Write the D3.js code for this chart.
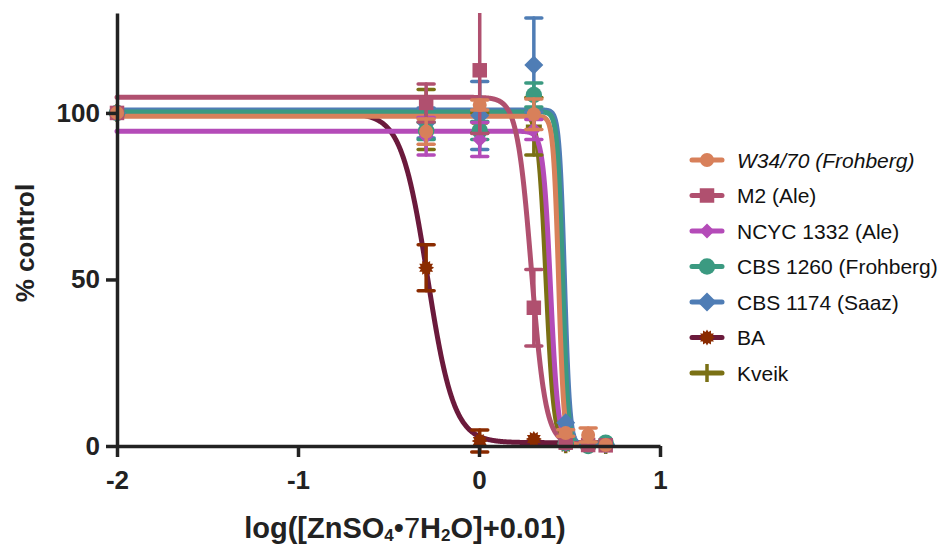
<!DOCTYPE html>
<html><head><meta charset="utf-8">
<script src="https://cdn.jsdelivr.net/npm/d3@7"></script>
<style>body{margin:0;background:#fff} svg{display:block}</style>
</head><body><svg id="c" width="949" height="550"></svg>
<script>
// ---- data ----
const logDose = [-2, -0.292, 0.004, 0.303, 0.479, 0.603, 0.700];
const seriesNames = ["W34/70 (Frohberg)", "M2 (Ale)", "NCYC 1332 (Ale)", "CBS 1260 (Frohberg)", "CBS 1174 (Saaz)", "BA", "Kveik"];
const w3470Mean   = [100, 94.4, 102.4, 99.6, 3.9, 3.3, 0.3];
const w3470Err    = [0, 3.8, 1.5, 4.6, 1, 2.1, 0.5];
const m2Mean      = [100, 103, 112.8, 41.5, 1, 0.3, 0.2];
const m2Err       = [0, 5.7, 19, 11.5, 0.5, 0, 0];
const ncycMean    = [100, 93, 92, 95, 0.6, 0.3, 0.3];
const ncycErr     = [0, 5.6, 5.1, 3, 0, 0, 0];
const cbs1260Mean = [100, 94.6, 94.7, 105.4, 0.8, 0, 1];
const cbs1260Err  = [0, 2.6, 2.7, 3.6, 0, 0.3, 0.3];
const cbs1174Mean = [100, 97, 99.2, 114.4, 7, 0.5, 0.5];
const cbs1174Err  = [0, 4.5, 10.2, 14.1, 0, 0, 0];
const baMean      = [100, 53.5, 1.5, 2.1, 0.3, 0.2, 0.2];
const baErr       = [0, 6.9, 3.3, 0.5, 0, 0, 0];
const kveikMean   = [100, 98, 97, 96, 0.5, 0.3, 0.3];
const kveikErr    = [0, 9, 3, 8.6, 0, 0, 0];
// fitted four-parameter logistic curves
const fitTop     = [99.0, 104.7, 94.5, 100.3, 100.9, 100, 100.1];
const fitBottom  = [0.3, 0.5, 0.5, 0.3, 0.3, 1.0, 0.5];
const fitLogIC50 = [0.44, 0.29, 0.395, 0.462, 0.472, -0.284, 0.37];
const fitHill    = [30, 11, 21, 30, 30, 6, 20];
const xTicks = [-2, -1, 0, 1];
const yTicks = [0, 50, 100];

const means = [w3470Mean, m2Mean, ncycMean, cbs1260Mean, cbs1174Mean, baMean, kveikMean];
const errs  = [w3470Err, m2Err, ncycErr, cbs1260Err, cbs1174Err, baErr, kveikErr];

// ---- styles ----
const lineColors   = ["#d8805a", "#b0506f", "#b44bb8", "#3b9a81", "#4f7db5", "#6b1a3c", "#7a7014"];
const markerColors = ["#d8805a", "#b0506f", "#b44bb8", "#3b9a81", "#4f7db5", "#8a2b00", "#7a7014"];
const shapes = ["circle", "square", "diamondS", "circleL", "diamond", "gear", "plus"];
const FONT = "'Liberation Sans', Arial, Helvetica, sans-serif";

const svg = d3.select("#c");
const x = d3.scaleLinear().domain([-2, 1]).range([117, 660]);
const y = d3.scaleLinear().domain([0, 130]).range([446, 13]);

svg.append("defs").append("clipPath").attr("id", "clip")
  .append("rect").attr("x", 0).attr("y", y(130)).attr("width", 949).attr("height", 550);

function markerPath(shape) {
  if (shape === "circle") return d3.symbol(d3.symbolCircle, Math.PI * 7 * 7)();
  if (shape === "circleL") return d3.symbol(d3.symbolCircle, Math.PI * 8.2 * 8.2)();
  if (shape === "square") return d3.symbol(d3.symbolSquare, 14.5 * 14.5)();
  if (shape === "diamond") { const r = 9.5; return `M0,${-r}L${r},0L0,${r}L${-r},0Z`; }
  if (shape === "diamondS") { const r = 7.5; return `M0,${-r}L${r},0L0,${r}L${-r},0Z`; }
  if (shape === "gear") {
    const pts = d3.range(24).map(i => [i * Math.PI / 12, i % 2 ? 5.6 : 8]);
    return d3.lineRadial().curve(d3.curveLinearClosed)(pts);
  }
  return null;
}
function drawMarker(g, shape, color) {
  if (shape === "plus") {
    g.append("path").attr("d", "M-8,0H8M0,-9V9").attr("stroke", color)
      .attr("stroke-width", 3.5).attr("fill", "none");
  } else {
    g.append("path").attr("d", markerPath(shape)).attr("fill", color);
  }
}

const plot = svg.append("g").attr("clip-path", "url(#clip)");
const order = d3.range(seriesNames.length).reverse();

// curves
const xs = d3.range(-2, 0.7001, 0.002);
const line = d3.line().x(d => x(d[0])).y(d => y(d[1]));
order.forEach(i => {
  const pts = xs.map(v => [v, fitBottom[i] + (fitTop[i] - fitBottom[i]) / (1 + Math.pow(10, fitHill[i] * (v - fitLogIC50[i])))]);
  plot.append("path").attr("d", line(pts)).attr("fill", "none")
    .attr("stroke", lineColors[i]).attr("stroke-width", 5)
    .attr("stroke-linecap", "round").attr("stroke-linejoin", "round");
});

// error bars + markers
order.forEach(i => {
  const col = markerColors[i];
  logDose.forEach((d, k) => {
    const m = means[i][k], e = errs[i][k];
    const cx = x(d);
    if (e > 0.8) {
      const eb = plot.append("g").attr("stroke", col).attr("stroke-width", 3.5).attr("stroke-linecap", "round");
      eb.append("line").attr("x1", cx).attr("x2", cx).attr("y1", y(m - e)).attr("y2", y(m + e));
      [m - e, m + e].forEach(v => eb.append("line").attr("x1", cx - 8).attr("x2", cx + 8).attr("y1", y(v)).attr("y2", y(v)));
    }
    const g = plot.append("g").attr("transform", `translate(${cx},${y(m)})`);
    drawMarker(g, shapes[i], col);
  });
});

// axes
const xAxis = svg.append("g").attr("transform", `translate(0,${y(0)})`)
  .call(d3.axisBottom(x).tickValues(xTicks).tickSize(11).tickSizeOuter(0).tickPadding(14).tickFormat(d3.format("d")));
const yAxis = svg.append("g").attr("transform", `translate(${x(-2)},0)`)
  .call(d3.axisLeft(y).tickValues(yTicks).tickSize(11).tickSizeOuter(0).tickPadding(6));
[xAxis, yAxis].forEach(a => {
  a.selectAll("path.domain").attr("stroke", "#222").attr("stroke-width", 3.5);
  a.selectAll(".tick line").attr("stroke", "#222").attr("stroke-width", 3.5);
  a.selectAll(".tick text").attr("fill", "#222").style("font-family", FONT)
    .style("font-weight", "bold").style("font-size", "26px");
});
xAxis.selectAll(".tick text").text(d => d < 0 ? "-" + Math.abs(d) : d);

// axis titles
svg.append("text").attr("transform", `translate(34,${243}) rotate(-90)`)
  .attr("text-anchor", "middle").attr("fill", "#222")
  .style("font-family", FONT).style("font-weight", "bold").style("font-size", "26px")
  .text("% control");

const xt = svg.append("text").attr("x", 405).attr("y", 538).attr("text-anchor", "middle").attr("fill", "#222")
  .style("font-family", FONT).style("font-weight", "bold").style("font-size", "29px");
xt.append("tspan").text("log([ZnSO");
xt.append("tspan").attr("font-size", "17px").attr("dy", 3).text("4");
xt.append("tspan").attr("dy", -3).style("font-weight", "normal").text("•7");
xt.append("tspan").text("H");
xt.append("tspan").attr("font-size", "17px").attr("dy", 3).text("2");
xt.append("tspan").attr("dy", -3).text("O]+0.01)");

// legend
const leg = svg.append("g");
seriesNames.forEach((name, i) => {
  const cy = 160 + i * 35.5;
  const g = leg.append("g").attr("transform", `translate(0,${cy})`);
  g.append("line").attr("x1", 692).attr("x2", 722).attr("y1", 0).attr("y2", 0)
    .attr("stroke", lineColors[i]).attr("stroke-width", 5).attr("stroke-linecap", "round");
  const mg = g.append("g").attr("transform", "translate(707,0)");
  drawMarker(mg, shapes[i], markerColors[i]);
  g.append("text").attr("x", 737).attr("y", 7.5).attr("fill", "#111")
    .style("font-family", FONT).style("font-size", "21px")
    .style("font-style", i === 0 ? "italic" : "normal").text(name);
});
</script></body></html>
